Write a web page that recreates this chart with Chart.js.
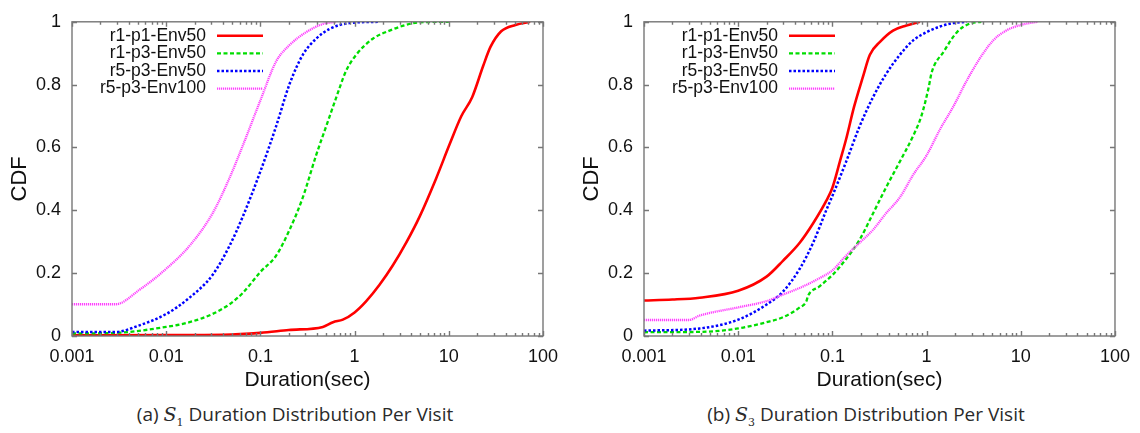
<!DOCTYPE html>
<html>
<head>
<meta charset="utf-8">
<script src="https://cdn.jsdelivr.net/npm/chart.js@4"></script>
<style>
  body { margin: 0; background: #fff; width: 1140px; height: 433px; overflow: hidden; }
  .panel { position: absolute; top: 0; width: 570px; height: 433px; }
  .panel canvas { position: absolute; left: 0; top: 0; }
  .caption { position: absolute; top: 401px; width: 570px; text-align: center;
             font-family: "Open Sans", "Noto Sans", sans-serif; font-size: 19px; color: #2a2a2a; }
  .caption i { font-family: "DejaVu Serif", serif; }
  .caption sub { font-family: "DejaVu Serif", serif; font-size: 11px; }
</style>
</head>
<body>
<div class="panel" style="left:0"><canvas id="chartS1"></canvas>
  <div class="caption" style="left:10px">(a) <i>S</i><sub>1</sub> Duration Distribution Per Visit</div></div>
<div class="panel" style="left:570px"><canvas id="chartS3"></canvas>
  <div class="caption" style="left:11px">(b) <i>S</i><sub>3</sub> Duration Distribution Per Visit</div></div>
<script>
// series names
const seriesNames = ['r1-p1-Env50', 'r1-p3-Env50', 'r5-p3-Env50', 'r5-p3-Env100'];
const yTicks = [0, 0.2, 0.4, 0.6, 0.8, 1];
const xDecades = [0.001, 0.01, 0.1, 1, 10, 100];

// (a) S1 - durations (sec) and CDF values
const s1RedX = [0.001, 0.01, 0.04, 0.1, 0.2, 0.46, 0.59, 0.75, 1.0, 1.33, 1.84, 2.55, 3.53, 4.9, 7.3, 10.2, 13.6, 17.7, 23.2, 27.7, 36, 51, 73];
const s1RedY = [0.002, 0.003, 0.004, 0.01, 0.019, 0.029, 0.044, 0.052, 0.075, 0.111, 0.163, 0.225, 0.297, 0.38, 0.50, 0.61, 0.70, 0.76, 0.86, 0.92, 0.97, 0.99, 1.0];
const s1GreenX = [0.001, 0.0029, 0.01, 0.0177, 0.031, 0.047, 0.065, 0.1, 0.147, 0.204, 0.282, 0.39, 0.5, 0.64, 0.81, 1.04, 1.56, 2.35, 3.8, 4.7, 10];
const s1GreenY = [0.008, 0.01, 0.029, 0.044, 0.07, 0.101, 0.137, 0.204, 0.256, 0.338, 0.441, 0.575, 0.668, 0.76, 0.843, 0.895, 0.946, 0.972, 0.993, 0.998, 1.0];
const s1BlueX = [0.001, 0.0029, 0.0052, 0.01, 0.0177, 0.031, 0.047, 0.065, 0.1, 0.147, 0.204, 0.282, 0.39, 0.54, 0.88, 1.84];
const s1BlueY = [0.013, 0.013, 0.034, 0.07, 0.122, 0.194, 0.287, 0.38, 0.524, 0.668, 0.802, 0.895, 0.946, 0.977, 0.996, 1.0];
const s1MagentaX = [0.001, 0.0029, 0.0052, 0.01, 0.0177, 0.031, 0.047, 0.065, 0.1, 0.147, 0.204, 0.306, 0.46, 0.63];
const s1MagentaY = [0.101, 0.101, 0.147, 0.214, 0.287, 0.39, 0.503, 0.606, 0.75, 0.874, 0.926, 0.967, 0.993, 1.0];

// (b) S3
const s3RedX = [0.001, 0.002, 0.0039, 0.01, 0.02, 0.03, 0.045, 0.0625, 0.086, 0.1, 0.12, 0.14, 0.17, 0.21, 0.25, 0.32, 0.44, 0.61, 0.85];
const s3RedY = [0.113, 0.116, 0.122, 0.144, 0.189, 0.24, 0.297, 0.359, 0.43, 0.472, 0.555, 0.627, 0.73, 0.823, 0.895, 0.936, 0.972, 0.988, 1.0];
const s3GreenX = [0.001, 0.0039, 0.01, 0.02, 0.03, 0.045, 0.053, 0.055, 0.073, 0.1, 0.14, 0.195, 0.27, 0.37, 0.52, 0.72, 0.88, 1.05, 1.13, 1.52, 2.1, 2.8, 3.8];
const s3GreenY = [0.012, 0.013, 0.024, 0.044, 0.06, 0.091, 0.111, 0.127, 0.158, 0.194, 0.245, 0.307, 0.39, 0.472, 0.555, 0.637, 0.70, 0.79, 0.838, 0.905, 0.967, 0.993, 1.0];
const s3BlueX = [0.001, 0.0039, 0.01, 0.02, 0.03, 0.045, 0.0625, 0.086, 0.1, 0.14, 0.195, 0.27, 0.37, 0.52, 0.72, 1.0, 1.39, 1.92, 2.66];
const s3BlueY = [0.017, 0.024, 0.052, 0.10, 0.142, 0.214, 0.297, 0.40, 0.446, 0.555, 0.668, 0.76, 0.833, 0.895, 0.941, 0.967, 0.985, 0.996, 1.0];
const s3MagentaX = [0.001, 0.003, 0.0039, 0.01, 0.02, 0.03, 0.045, 0.073, 0.1, 0.14, 0.195, 0.27, 0.37, 0.52, 0.72, 1.0, 1.39, 1.92, 2.66, 3.7, 5.1, 7.0, 10, 15];
const s3MagentaY = [0.051, 0.051, 0.065, 0.091, 0.111, 0.132, 0.153, 0.184, 0.209, 0.256, 0.297, 0.338, 0.39, 0.441, 0.513, 0.575, 0.658, 0.73, 0.812, 0.885, 0.941, 0.972, 0.99, 1.0];

const styles = [
  { color: '#ff0000', width: 2.6, dash: [] },
  { color: '#00dd00', width: 2.3, dash: [4, 2.5] },
  { color: '#0000ff', width: 2.5, dash: [2.5, 2] },
  { color: '#ff40ff', width: 2.3, dash: [1.2, 0.8] }
];

const font = "'Liberation Sans', Arial, sans-serif";
const W = 570, H = 400;

function pts(xs, ys) { return xs.map((x, i) => ({ x: x, y: ys[i] })); }

// border + inward ticks on all four sides, plus right-aligned legend
const gnuplotFrame = {
  id: 'gnuplotFrame',
  afterDatasetsDraw(chart) {
    const ctx = chart.ctx, a = chart.chartArea;
    const xs = chart.scales.x, ys = chart.scales.y;
    ctx.save();
    ctx.strokeStyle = '#777';
    ctx.lineWidth = 1.4;
    ctx.setLineDash([]);
    ctx.strokeRect(a.left, a.top, a.right - a.left, a.bottom - a.top);
    ctx.beginPath();
    xDecades.forEach((d, k) => {
      for (let m = 1; m <= 9; m++) {
        if (m > 1 && k === xDecades.length - 1) continue;
        const px = Math.round(xs.getPixelForValue(d * m)) + 0.5;
        const len = m === 1 ? 5 : 3;
        ctx.moveTo(px, a.bottom); ctx.lineTo(px, a.bottom - len);
        ctx.moveTo(px, a.top); ctx.lineTo(px, a.top + len);
      }
    });
    yTicks.forEach(v => {
      const py = Math.round(ys.getPixelForValue(v)) + 0.5;
      ctx.moveTo(a.left, py); ctx.lineTo(a.left + 5, py);
      ctx.moveTo(a.right, py); ctx.lineTo(a.right - 5, py);
    });
    ctx.stroke();

    // legend, in series order
    ctx.font = '17.5px ' + font;
    ctx.textAlign = 'right';
    ctx.textBaseline = 'middle';
    seriesNames.forEach((name, i) => {
      const st = styles[i];
      const y = a.top + 14 + i * 17.6;
      ctx.fillStyle = '#111';
      ctx.fillText(name, a.left + 134, y);
      ctx.beginPath();
      ctx.strokeStyle = st.color;
      ctx.lineWidth = st.width;
      ctx.setLineDash(st.dash);
      ctx.moveTo(a.left + 145, y); ctx.lineTo(a.left + 191, y);
      ctx.stroke();
    });
    ctx.restore();
  }
};

function makeChart(id, series, axisW, titlePad) {
  const canvas = document.getElementById(id);
  canvas.width = W; canvas.height = H;
  canvas.style.width = W + 'px'; canvas.style.height = H + 'px';
  // datasets reversed so the first series is drawn first (bottom)
  const datasets = series.map((s, i) => ({
    label: seriesNames[i],
    data: pts(s[0], s[1]),
    borderColor: styles[i].color,
    borderWidth: styles[i].width,
    borderDash: styles[i].dash,
    pointRadius: 0,
    fill: false,
    cubicInterpolationMode: 'monotone'
  })).reverse();
  new Chart(canvas, {
    type: 'line',
    data: { datasets: datasets },
    options: {
      responsive: false,
      animation: false,
      layout: { padding: { top: 13, right: W - axisW - 471, left: 0, bottom: 0 } },
      plugins: { legend: { display: false }, tooltip: { enabled: false } },
      scales: {
        x: {
          type: 'logarithmic',
          min: 0.001, max: 100,
          afterBuildTicks: scale => { scale.ticks = xDecades.map(v => ({ value: v })); },
          afterFit: scale => { scale.height = H - 336; },
          grid: { display: false, drawTicks: false },
          border: { display: false },
          ticks: {
            autoSkip: false, maxRotation: 0, padding: 10,
            color: '#111', font: { family: font, size: 18 },
            callback: v => String(v)
          },
          title: { display: true, text: 'Duration(sec)', color: '#111',
                   font: { family: font, size: 21 }, padding: { top: 0, bottom: 7 } }
        },
        y: {
          min: 0, max: 1,
          afterBuildTicks: scale => { scale.ticks = yTicks.map(v => ({ value: v })); },
          afterFit: scale => { scale.width = axisW; },
          grid: { display: false, drawTicks: false },
          border: { display: false },
          ticks: {
            padding: 11, color: '#111', font: { family: font, size: 18 },
            callback: v => String(Math.round(v * 10) / 10)
          },
          title: { display: true, text: 'CDF', color: '#111',
                   font: { family: font, size: 22 }, padding: { top: titlePad, bottom: 0 } }
        }
      }
    },
    plugins: [gnuplotFrame]
  });
}

makeChart('chartS1', [[s1RedX, s1RedY], [s1GreenX, s1GreenY], [s1BlueX, s1BlueY], [s1MagentaX, s1MagentaY]], 72, 7);
makeChart('chartS3', [[s3RedX, s3RedY], [s3GreenX, s3GreenY], [s3BlueX, s3BlueY], [s3MagentaX, s3MagentaY]], 74, 9);
</script>
</body>
</html>
